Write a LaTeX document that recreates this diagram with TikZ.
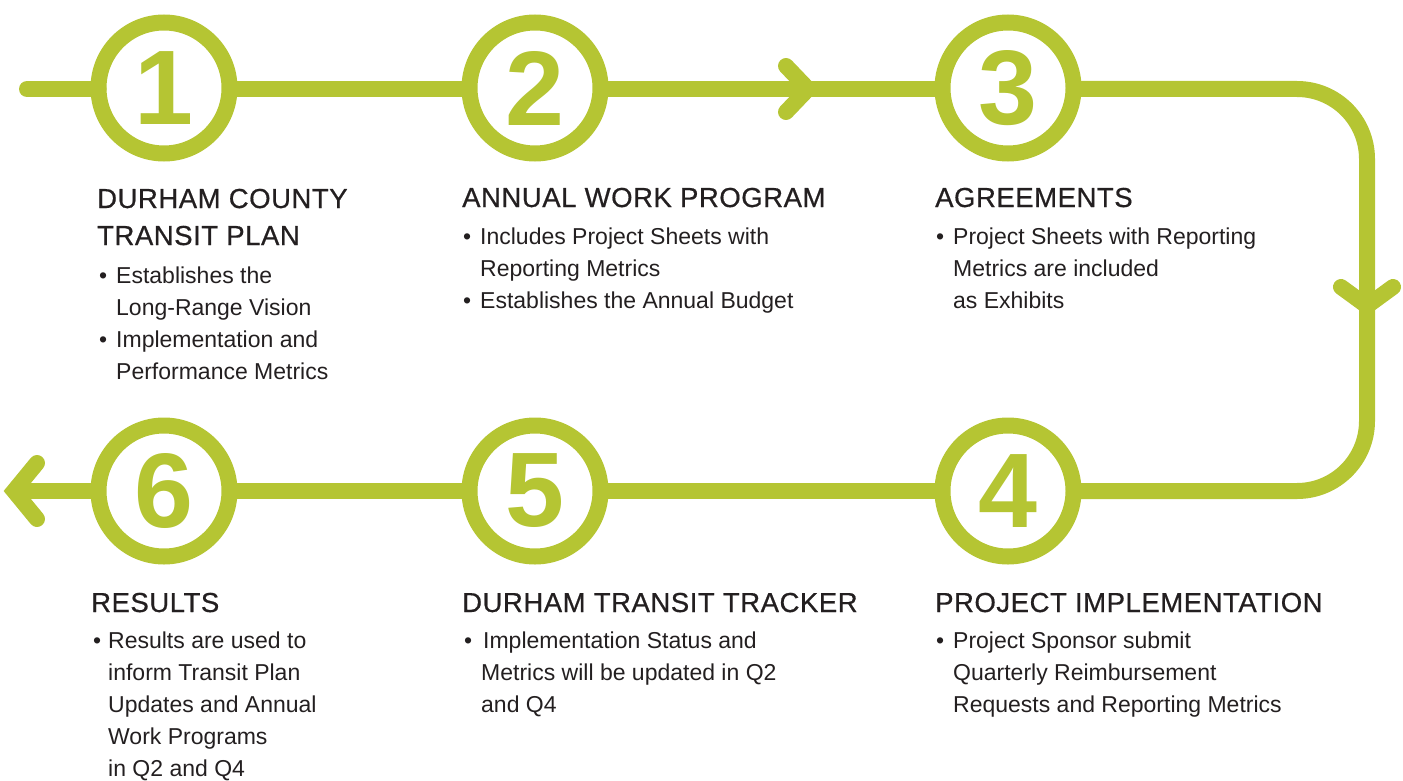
\documentclass[tikz,border=0pt]{standalone}
\usepackage{fontspec}
\setmainfont{Liberation Sans}
\newfontfamily\headfont{Liberation Sans}[FakeBold=0.6, LetterSpace=2.0]
\definecolor{tgreen}{HTML}{B5C533}
\definecolor{ink}{HTML}{231F20}
\newcommand\rows[1]{\vtop{\halign{##\hfil\cr#1\crcr}}}
\newcommand\bu[1][17pt]{\makebox[#1][l]{•}}
\newcommand\ind[1][17pt]{\hspace*{#1}}
\tikzset{
  track/.style={draw=tgreen, line width=16pt},
  stop/.style={circle, draw=tgreen, line width=16pt, minimum size=131pt, inner sep=0pt, outer sep=0pt,
    text=tgreen, font=\fontsize{106}{106}\selectfont\bfseries},
  tipline/.style={draw=tgreen, line width=16pt, line cap=round, line join=round},
  head/.style={anchor=base west, inner sep=0pt, text=ink, font=\headfont\fontsize{27.5}{37}\selectfont},
  body/.style={anchor=base west, inner sep=0pt, text=ink, font=\fontsize{23}{32}\selectfont},
}
\begin{document}
\begin{tikzpicture}[x=1pt,y=-1pt]
\useasboundingbox (0,0) rectangle (1403,781);
% stops
\node[stop] (c1) at (164,88) {1};
\node[stop] (c2) at (535,88) {2};
\node[stop] (c3) at (1008,88) {3};
\node[stop] (c4) at (1008,491) {4};
\node[stop] (c5) at (535,491) {5};
\node[stop] (c6) at (164,491) {6};
% helper coordinates
\coordinate (start) at (27,89);
\coordinate (ne) at (1367,89);
\coordinate (se) at (1367,491);
\coordinate (finish) at (14,491);
% track
\draw[track, line cap=round] (start) -- (c1.west |- start);
\draw[track] (c1.east |- start) -- (c2.west |- start);
\draw[track] (c2.east |- start) -- (c3.west |- start);
\draw[track, rounded corners=70pt] (c3.east |- start) -- (ne) -- (se) -- (c4.east);
\draw[track] (c4.west) -- (c5.east);
\draw[track] (c5.west) -- (c6.east);
\draw[track] (c6.west) -- (finish);
% arrow heads
\draw[tipline] (786,66) -- (808,89) -- (786,112);
\draw[tipline] (1341,287) -- (1367,306) -- (1393,287);
\draw[tipline, line join=miter] (37,463) -- (finish) -- (37,519);
% texts
\node[head] (h1) at (97,208) {\rows{DURHAM COUNTY\cr TRANSIT PLAN}};
\node[body] (b1) at (99,283) {\rows{\bu Establishes the\cr \ind Long-Range Vision\cr \bu Implementation and\cr \ind Performance Metrics}};
\node[head] (h2) at (462,207) {ANNUAL WORK PROGRAM};
\node[body] (b2) at (463,244) {\rows{\bu Includes Project Sheets with\cr \ind Reporting Metrics\cr \bu Establishes the Annual Budget}};
\node[head] (h3) at (935,207) {AGREEMENTS};
\node[body] (b3) at (936,244) {\rows{\bu Project Sheets with Reporting\cr \ind Metrics are included\cr \ind as Exhibits}};
\node[head] (h6) at (91,612) {RESULTS};
\node[body] (b6) at (93,648) {\rows{\bu[15pt]Results are used to\cr \ind[15pt]inform Transit Plan\cr \ind[15pt]Updates and Annual\cr \ind[15pt]Work Programs\cr \ind[15pt]in Q2 and Q4}};
\node[head] (h5) at (462,612) {DURHAM TRANSIT TRACKER};
\node[body] (b5) at (464,648) {\rows{\bu[19pt]Implementation Status and\cr \ind[17pt]Metrics will be updated in Q2\cr \ind[17pt]and Q4}};
\node[head] (h4) at (935,612) {PROJECT IMPLEMENTATION};
\node[body] (b4) at (936,648) {\rows{\bu Project Sponsor submit\cr \ind Quarterly Reimbursement\cr \ind Requests and Reporting Metrics}};
\end{tikzpicture}
\end{document}
